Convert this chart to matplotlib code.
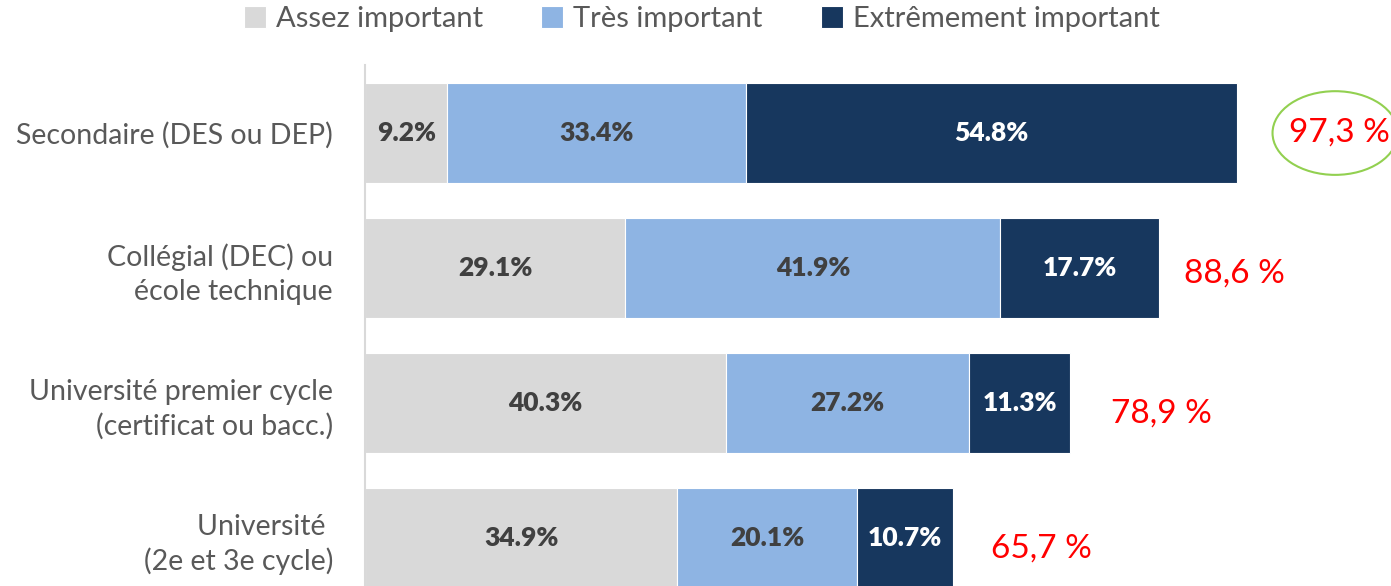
import matplotlib
matplotlib.use("Agg")
import matplotlib.pyplot as plt
from matplotlib.patches import Ellipse
import numpy as np

plt.rcParams['font.family'] = ['Lato', 'DejaVu Sans']

categories = [
    "Secondaire (DES ou DEP)",
    "Collégial (DEC) ou\nécole technique",
    "Université premier cycle\n(certificat ou bacc.)",
    "Université \n(2e et 3e cycle)",
]
assez = [9.2, 29.1, 40.3, 34.9]
tres = [33.4, 41.9, 27.2, 20.1]
extreme = [54.8, 17.7, 11.3, 10.7]
totals = ["97,3 %", "88,6 %", "78,9 %", "65,7 %"]

series_names = ["Assez important", "Très important", "Extrêmement important"]
colors = ["#D9D9D9", "#8EB4E3", "#17375E"]
text_colors = ["#404040", "#404040", "white"]

fig = plt.figure(figsize=(13.91, 5.86), dpi=100)
ax = fig.add_axes([365 / 1391, 0, 1 - 365 / 1391, (586 - 65) / 586])

y = np.arange(len(categories))
left = np.zeros(len(categories))
for vals, name, col, tc in zip([assez, tres, extreme], series_names, colors, text_colors):
    vals = np.array(vals)
    ax.barh(y, vals, left=left, height=0.74, color=col, edgecolor="white",
            linewidth=0.8, label=name)
    for yi, l, v in zip(y, left, vals):
        ax.text(l + v / 2, yi, f"{v:.1f}%", ha="center", va="center",
                fontsize=19, fontweight="heavy", color=tc)
    left = left + vals

# totals are placed by hand in the original, so the gaps vary a bit
x_off = [5.8, 2.8, 4.5, 4.2]
y_off = [0.0, 0.04, 0.075, 0.08]
for yi, tot, lab, dx, dy in zip(y, left, totals, x_off, y_off):
    ax.text(tot + dx, yi + dy, lab, ha="left", va="center", fontsize=24,
            color="#FF0000")

ax.add_patch(Ellipse((left[0] + 11.0, 0), 14.0, 0.62, fill=False,
                     edgecolor="#92D050", linewidth=1.5, clip_on=False))

ax.set_xlim(0, 1026 / 8.95)
ax.set_ylim(3.356, -0.504)
ax.set_yticks(y)
ax.set_yticklabels(categories, fontsize=20.5, color="#595959", ha="right",
                   linespacing=1.35)
ax.tick_params(axis="y", length=0, pad=23)
ax.set_xticks([])
for s in ["top", "right", "bottom"]:
    ax.spines[s].set_visible(False)
ax.spines["left"].set_color("#D9D9D9")
ax.spines["left"].set_linewidth(1.5)

handles, labels = ax.get_legend_handles_labels()
fig.legend(handles, labels, loc="center", bbox_to_anchor=(702 / 1391, 1 - 19 / 586),
           ncol=3, frameon=False, fontsize=21, labelcolor="#595959",
           handlelength=0.75, handleheight=0.75, handletextpad=0.35, columnspacing=2.0)

fig.savefig("out.png", dpi=100)
